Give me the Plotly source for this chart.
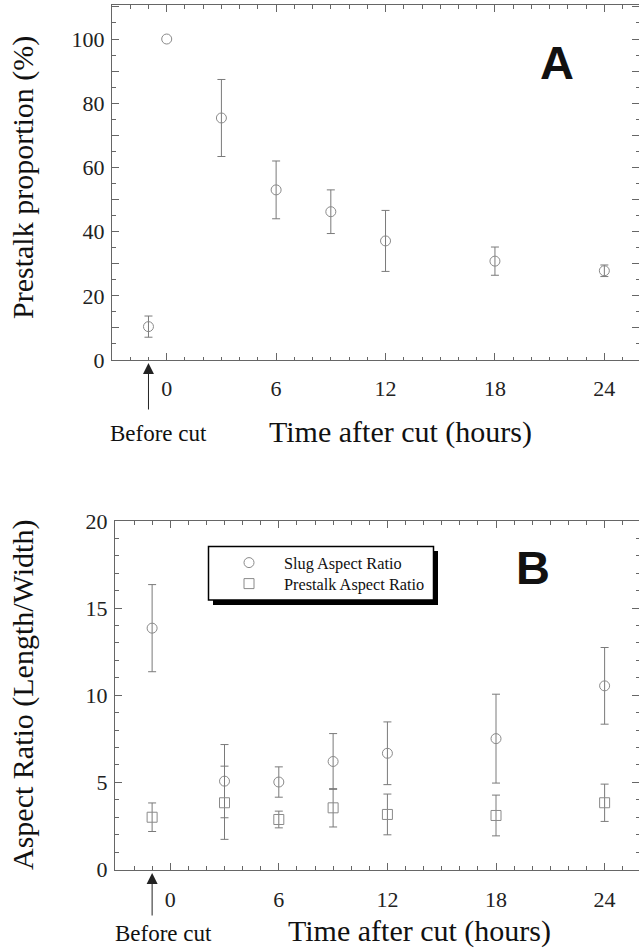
import plotly.graph_objects as go

# ---------------- data ----------------
# Panel A
time_a = [-1, 0, 3, 6, 9, 12, 18, 24]          # -1 = "Before cut"
prestalk_pct = [10.4, 100, 75.4, 53.0, 46.2, 37.1, 30.8, 27.8]
prestalk_pct_err = [3.3, None, 12.0, 9.0, 6.8, 9.5, 4.4, 1.8]

# Panel B
time_b = [-1, 3, 6, 9, 12, 18, 24]
slug_ar = [13.85, 5.07, 5.02, 6.2, 6.67, 7.51, 10.54]
slug_ar_err = [2.5, 2.1, 0.87, 1.6, 1.8, 2.55, 2.2]
prestalk_ar = [3.0, 3.83, 2.87, 3.54, 3.16, 3.1, 3.83]
prestalk_ar_err = [0.82, 2.1, 0.48, 1.1, 1.17, 1.17, 1.07]

x_major = list(range(-3, 26, 3))
x_labels = [str(v) if (v >= 0 and v % 6 == 0) else "" for v in x_major]
x_minor = list(range(-3, 26, 1))
ya_major = list(range(0, 111, 10))
ya_labels = [str(v) if v % 20 == 0 else "" for v in ya_major]
ya_minor = list(range(5, 111, 10))
yb_major = [0, 5, 10, 15, 20]
yb_labels = ["0", "5", "10", "15", "20"]
yb_minor = list(range(0, 21, 1))

# ---------------- layout helpers ----------------
W, H = 639, 949
def px(x):
    return x / W
def py(y):
    return 1 - y / H

SERIF = "Liberation Serif, Times New Roman, serif"
MARK = "#8a8a8a"
ERR = "#7a7a7a"
AXC = "#666666"

fig = go.Figure()

# panel A: points with error bars, and the point without one
idx_err = [i for i, e in enumerate(prestalk_pct_err) if e is not None]
idx_noerr = [i for i, e in enumerate(prestalk_pct_err) if e is None]
fig.add_trace(go.Scatter(
    x=[time_a[i] for i in idx_err], y=[prestalk_pct[i] for i in idx_err],
    mode="markers", showlegend=False,
    marker=dict(symbol="circle-open", size=10, color=MARK, line=dict(width=1)),
    error_y=dict(type="data", array=[prestalk_pct_err[i] for i in idx_err],
                 color=ERR, thickness=1, width=4),
    xaxis="x", yaxis="y"))
fig.add_trace(go.Scatter(
    x=[time_a[i] for i in idx_noerr], y=[prestalk_pct[i] for i in idx_noerr],
    mode="markers", showlegend=False,
    marker=dict(symbol="circle-open", size=10, color=MARK, line=dict(width=1)),
    xaxis="x", yaxis="y"))

fig.add_trace(go.Scatter(
    x=time_b, y=slug_ar, mode="markers", name="Slug Aspect Ratio", legend="legend",
    marker=dict(symbol="circle-open", size=10, color=MARK, line=dict(width=1)),
    error_y=dict(type="data", array=slug_ar_err, color=ERR, thickness=1, width=4),
    xaxis="x2", yaxis="y2"))

fig.add_trace(go.Scatter(
    x=time_b, y=prestalk_ar, mode="markers", name="Prestalk Aspect Ratio", legend="legend2",
    marker=dict(symbol="square-open", size=10, color=MARK, line=dict(width=1)),
    error_y=dict(type="data", array=prestalk_ar_err, color=ERR, thickness=1, width=4),
    xaxis="x2", yaxis="y2"))

def xaxis(domain, rng, anchor, standoff):
    return dict(domain=domain, range=rng, anchor=anchor, automargin=False,
                tickmode="array", tickvals=x_major, ticktext=x_labels,
                ticks="inside", ticklen=7, tickwidth=1, tickcolor=AXC,
                minor=dict(tickmode="array", tickvals=x_minor, ticks="inside",
                           ticklen=3.5, tickcolor=AXC, tickwidth=1),
                showline=True, linecolor=AXC, linewidth=1, mirror="ticks",
                showgrid=False, zeroline=False,
                tickfont=dict(family=SERIF, size=22, color="#222"),
                ticklabelstandoff=standoff)

def yaxis(domain, rng, anchor, vals, labels, minor):
    return dict(domain=domain, range=rng, anchor=anchor, automargin=False,
                tickmode="array", tickvals=vals, ticktext=labels,
                ticks="inside", ticklen=7, tickwidth=1, tickcolor=AXC,
                minor=dict(tickmode="array", tickvals=minor, ticks="inside",
                           ticklen=3.5, tickcolor=AXC, tickwidth=1),
                showline=True, linecolor=AXC, linewidth=1, mirror="ticks",
                showgrid=False, zeroline=False,
                tickfont=dict(family=SERIF, size=22, color="#222"),
                ticklabelstandoff=2)

ann = []
def text(t, x, y, size, angle=0, family=SERIF, **kw):
    ann.append(dict(text=t, x=px(x), y=py(y), xref="paper", yref="paper",
                    showarrow=False, textangle=angle, xanchor="center", yanchor="middle",
                    font=dict(family=family, size=size, color="#111"), **kw))

text("Time after cut (hours)", 401, 432, 30)
text("Prestalk proportion (%)", 23, 178, 30, angle=-90)
text("Time after cut (hours)", 419, 931, 30)
text("Aspect Ratio (Length/Width)", 23, 695, 30, angle=-90)
text("Before cut", 158, 434, 23)
text("Before cut", 163, 933, 23)
text("<b>A</b>", 557, 63, 47, family="Liberation Sans, Arial, sans-serif")
text("<b>B</b>", 533, 567, 47, family="Liberation Sans, Arial, sans-serif")

# "Before cut" arrows
ann.append(dict(x=-1, y=py(363), xref="x", yref="paper", text="", showarrow=True,
                ax=0, ay=48, arrowhead=2, arrowsize=2.2, arrowwidth=1, arrowcolor="#222"))
ann.append(dict(x=-1, y=py(873), xref="x2", yref="paper", text="", showarrow=True,
                ax=0, ay=44, arrowhead=2, arrowsize=2.2, arrowwidth=1, arrowcolor="#222"))

shapes = [
    dict(type="rect", xref="paper", yref="paper", x0=px(213), x1=px(438), y0=py(605), y1=py(551),
         fillcolor="black", line=dict(width=0)),
    dict(type="rect", xref="paper", yref="paper", x0=px(208.5), x1=px(433.5), y0=py(600), y1=py(546.5),
         fillcolor="white", line=dict(color="black", width=1.5)),
]

legend_common = dict(xanchor="left", yanchor="middle", bgcolor="rgba(0,0,0,0)",
                     borderwidth=0, itemwidth=60,
                     font=dict(family=SERIF, size=16.3, color="#111"))

fig.update_layout(
    template="none",
    width=W, height=H, margin=dict(l=0, r=0, t=0, b=0, autoexpand=False),
    paper_bgcolor="white", plot_bgcolor="white",
    xaxis=xaxis([px(112), 1.0], [-3.0, 25.9], "y", 9),
    yaxis=yaxis([py(360), py(5)], [0, 110.6], "x", ya_major, ya_labels, ya_minor),
    xaxis2=xaxis([px(115), 1.0], [-3.05, 25.9], "y2", 10),
    yaxis2=yaxis([py(869.5), py(521)], [0, 20], "x2", yb_major, yb_labels, yb_minor),
    annotations=ann, shapes=shapes,
    legend=dict(x=px(214), y=py(563), **legend_common),
    legend2=dict(x=px(214), y=py(584), **legend_common),
    showlegend=True,
)

fig.write_html("out.html")
